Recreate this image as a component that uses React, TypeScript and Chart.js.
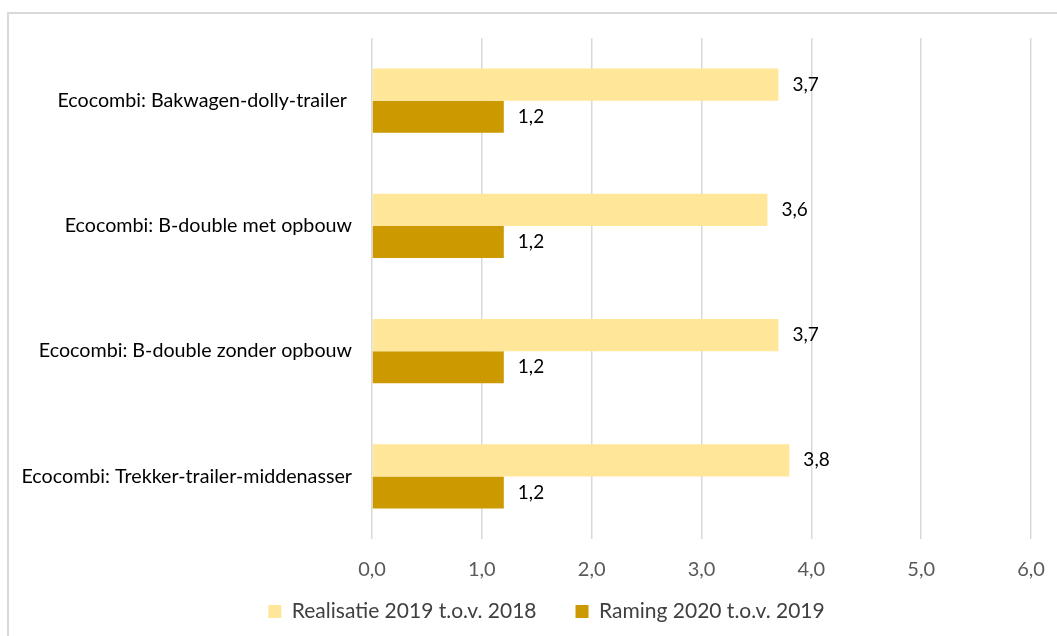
import React, { useEffect, useRef } from "react";
import { Chart, registerables } from "chart.js";

Chart.register(...registerables);

const categories = [
  "Ecocombi: Bakwagen-dolly-trailer ",
  "Ecocombi: B-double met opbouw",
  "Ecocombi: B-double zonder opbouw",
  "Ecocombi: Trekker-trailer-middenasser",
];
const realisatie = [3.7, 3.6, 3.7, 3.8];
const raming = [1.2, 1.2, 1.2, 1.2];
const seriesNames = ["Realisatie 2019 t.o.v. 2018", "Raming 2020 t.o.v. 2019"];
const xMin = 0;
const xMax = 6;

const fmt = (v: number) => v.toFixed(1).replace(".", ",");
const FONT = "Lato, 'Open Sans', sans-serif";

const dataLabels = {
  id: "dataLabels",
  afterDatasetsDraw(chart: any) {
    const ctx = chart.ctx;
    ctx.save();
    ctx.font = `19px ${FONT}`;
    ctx.fillStyle = "#000000";
    ctx.textAlign = "left";
    ctx.textBaseline = "middle";
    chart.data.datasets.forEach((ds: any, i: number) => {
      const meta = chart.getDatasetMeta(i);
      meta.data.forEach((el: any, j: number) => {
        ctx.fillText(fmt(ds.data[j]), el.x + 14, el.y);
      });
    });
    ctx.restore();
  },
};

const legendShift = {
  id: "legendShift",
  afterLayout(chart: any) {
    const lg = chart.legend;
    if (lg) {
      lg.left += 31;
      lg.right += 31;
    }
  },
};

export default function App() {
  const ref = useRef<HTMLCanvasElement>(null);
  useEffect(() => {
    if (!ref.current) return;
    const chart = new Chart(ref.current, {
      type: "bar",
      data: {
        labels: categories,
        datasets: [
          { label: seriesNames[0], data: realisatie, backgroundColor: "#FFE699" },
          { label: seriesNames[1], data: raming, backgroundColor: "#CC9900" },
        ],
      },
      options: {
        indexAxis: "y",
        animation: false,
        responsive: false,
        maintainAspectRatio: false,
        layout: { padding: { left: 0, right: 26, top: 38, bottom: 4 } },
        datasets: { bar: { categoryPercentage: 0.512, barPercentage: 1 } },
        scales: {
          x: {
            min: xMin,
            max: xMax,
            ticks: {
              stepSize: 1,
              padding: 19,
              color: "#595959",
              font: { family: FONT, size: 20 },
              callback: (v: any) => fmt(Number(v)),
            },
            grid: { color: "#d9d9d9", lineWidth: 1.5, drawTicks: false },
            border: { display: false },
            afterFit: (s: any) => {
              s.height = 23;
              s.paddingLeft = 0;
              s.paddingRight = 0;
              s._computeLabelArea = () => undefined;
            },
          },
          y: {
            ticks: {
              padding: 20,
              color: "#000000",
              font: { family: FONT, size: 19.7 },
            },
            grid: { display: false, drawTicks: false },
            border: { display: false },
            afterFit: (s: any) => {
              s.width = 372;
            },
          },
        },
        plugins: {
          legend: {
            position: "bottom",
            labels: {
              boxWidth: 13,
              boxHeight: 13,
              padding: 39,
              color: "#404040",
              font: { family: FONT, size: 21 },
            },
          },
          tooltip: { enabled: false },
        },
      },
      plugins: [dataLabels, legendShift],
    });
    return () => chart.destroy();
  }, []);
  return (
    <div style={{ position: "fixed", left: 0, top: 0, width: 1057, height: 636, background: "#fff", overflow: "hidden" }}>
      <div
        style={{
          position: "absolute",
          left: 7,
          top: 12,
          width: 1100,
          height: 700,
          border: "2px solid #d9d9d9",
          boxSizing: "border-box",
        }}
      />
      <canvas ref={ref} width={1057} height={636} style={{ position: "absolute", left: 0, top: 0 }} />
    </div>
  );
}
